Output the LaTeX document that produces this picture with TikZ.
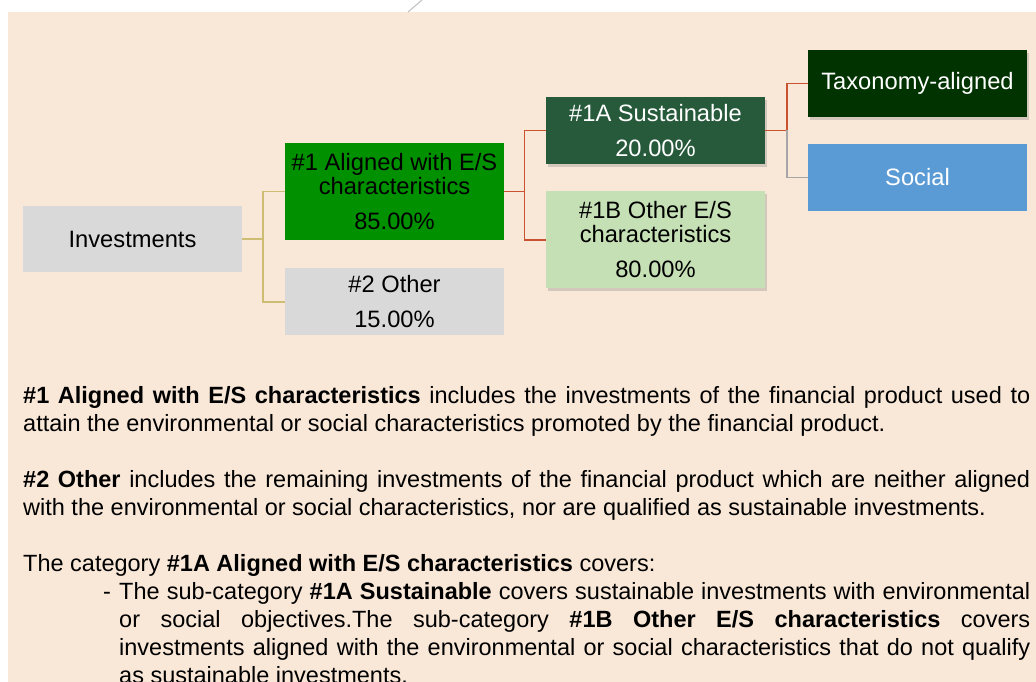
\documentclass[tikz,border=0pt]{standalone}
\usepackage{fontspec}
\setmainfont{Liberation Sans}
\usepackage{xcolor}
\usepackage{tikz}
\usetikzlibrary{positioning,shadows}
\definecolor{peach}{HTML}{F9E8D8}
\definecolor{boxgray}{HTML}{D9D9D9}
\definecolor{esgreen}{HTML}{009000}
\definecolor{susgreen}{HTML}{275A3B}
\definecolor{othergreen}{HTML}{C5E0B4}
\definecolor{taxgreen}{HTML}{003300}
\definecolor{socialblue}{HTML}{5B9BD5}
\definecolor{forkkhaki}{HTML}{CCBD72}
\definecolor{forkred}{HTML}{C9532F}
\definecolor{forkgray}{HTML}{A6A6A6}

\begin{document}
\begin{tikzpicture}[
  x=1pt, y=-1pt,
  node distance=27pt,
  cat/.style={
    minimum width=219pt, minimum height=66.5pt, inner sep=0pt,
    font=\fontsize{23.7}{24.5}\selectfont, align=center
  },
  tall/.style={minimum height=97pt},
  shade/.style={drop shadow={shadow xshift=2pt, shadow yshift=-3pt,
    fill=black!50, opacity=0.3}},
  fork/.style={line width=1.8pt},
  body/.style={
    anchor=base west, inner sep=0pt,
    font=\fontsize{23.5}{28}\selectfont, align=justify
  }
]
  \useasboundingbox (0,0) rectangle (1036,682);
  \fill[white] (0,0) rectangle (1036,682);
  \fill[peach] (8,12) rectangle (1036,682);
  \draw[black!25, line width=1pt] (408,12) -- (422,0);

  % tree of categories
  \node[cat, fill=boxgray] (invest) at (132.5,239) {Investments};
  \node[cat, tall, fill=esgreen] (aligned) at (394.5,191.5)
    {\#1 Aligned with E/S\\characteristics\\[10.5pt]85.00\%};
  \node[cat, fill=boxgray, below=28pt of aligned] (other)
    {\#2 Other\\[10.5pt]15.00\%};
  \node[cat, shade, fill=susgreen, text=white] (sustain) at (655.5,130.5)
    {\#1A Sustainable\\[10.5pt]20.00\%};
  \node[cat, tall, shade, fill=othergreen, below=of sustain] (otheres)
    {\#1B Other E/S\\characteristics\\[10.5pt]80.00\%};
  \node[cat, shade, fill=taxgreen, text=white] (taxonomy) at (917.5,83.5)
    {Taxonomy-aligned};
  \node[cat, fill=socialblue, text=white, below=of taxonomy] (social) {Social};

  \coordinate (fork1) at (263,239);
  \coordinate (fork2) at (524.5,191.5);
  \coordinate (fork3) at (787,130.5);
  \draw[fork, forkkhaki] (invest.east) -- (fork1) |- (aligned.west);
  \draw[fork, forkkhaki] (fork1) |- (other.west);
  \draw[fork, forkred] (aligned.east) -- (fork2) |- (sustain.west);
  \draw[fork, forkred] (fork2) |- (otheres.west);
  \draw[fork, forkred] (sustain.east) -- (fork3) |- (taxonomy.west);
  \draw[fork, forkgray] (fork3) |- (social.west);

  % explanations
  \node[body, text width=1007pt] (aligneddesc) at (23,403)
    {\textbf{\#1 Aligned with E/S characteristics} includes the investments of the financial product used to\linebreak attain the environmental or social characteristics promoted by the financial product.};
  \node[body, text width=1007pt] (otherdesc) at (23,487)
    {\textbf{\#2 Other} includes the remaining investments of the financial product which are neither aligned\linebreak with the environmental or social characteristics, nor are qualified as sustainable investments.};
  \node[body, text width=1007pt] (categorydesc) at (23,571)
    {The category \textbf{\#1A Aligned with E/S characteristics} covers:};
  \node[body] (dash) at (103,599) {-};
  \node[body, text width=911pt] (subdesc) at (119,599)
    {The sub-category \textbf{\#1A Sustainable} covers sustainable investments with environmental\linebreak or social objectives.The sub-category \textbf{\#1B Other E/S characteristics} covers\linebreak investments aligned with the environmental or social characteristics that do not qualify\linebreak as sustainable investments.};
\end{tikzpicture}
\end{document}
